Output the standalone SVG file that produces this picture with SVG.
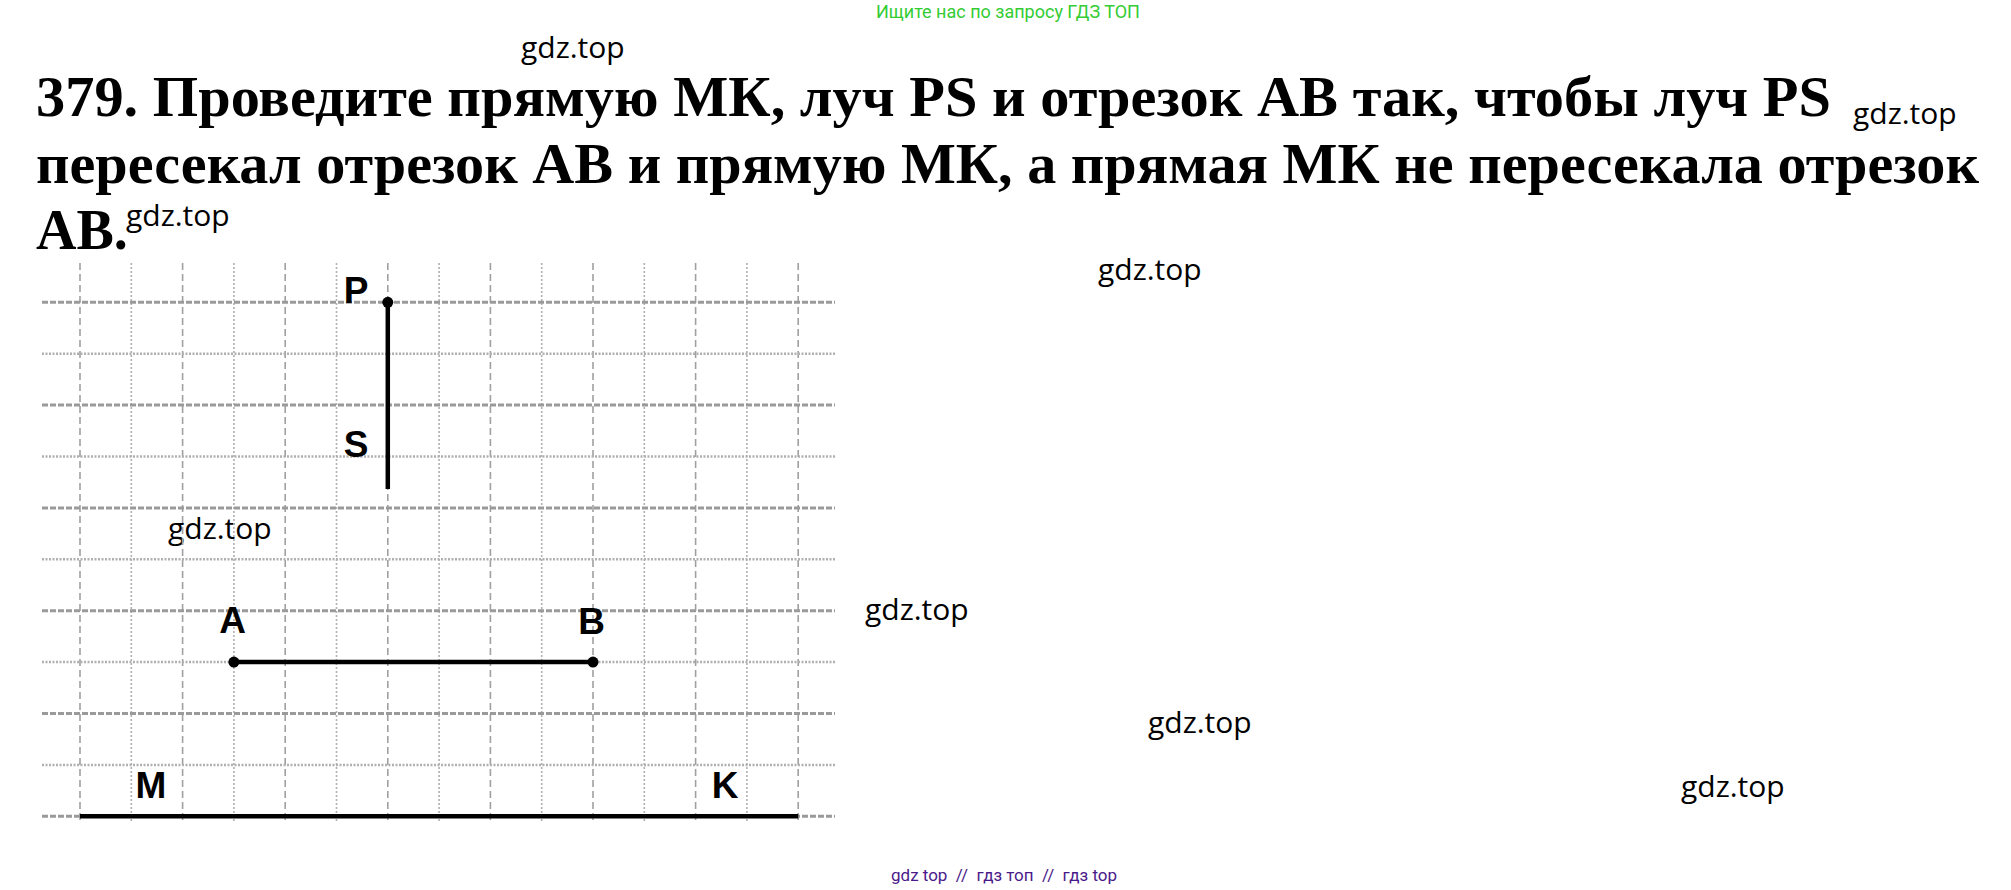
<svg xmlns="http://www.w3.org/2000/svg" width="2011" height="890" viewBox="0 0 2011 890">
<style>
.title{font-family:"Liberation Serif","Times New Roman",serif;font-weight:bold;font-size:56px;fill:#000}
.wm{font-family:"Open Sans","Noto Sans",sans-serif;font-size:30px;fill:#000}
.lbl{font-family:"Liberation Sans",Arial,sans-serif;font-weight:bold;font-size:37px;fill:#000;text-anchor:middle}
.hA{stroke:#9a9a9a;stroke-width:3;stroke-dasharray:6 2;fill:none}
.hB{stroke:#b0b0b0;stroke-width:2.5;stroke-dasharray:2 1.5;fill:none}
.vA{stroke:#a0a0a0;stroke-width:1.6;stroke-dasharray:7 4;fill:none}
.vB{stroke:#b0b0b0;stroke-width:1.6;stroke-dasharray:2 2;fill:none}
.fig{stroke:#000;stroke-width:4.5;fill:none}
.dot{fill:#000}
</style>
<rect width="2011" height="890" fill="#fff"/>
<g id="header">
<text x="876" y="18" font-family="Roboto,'Liberation Sans',sans-serif" font-size="18" fill="#33cc33">Ищите нас по запросу ГДЗ ТОП</text>
</g>
<g id="title">
<text class="title" x="36" y="116" textLength="1795" lengthAdjust="spacingAndGlyphs">379. Проведите прямую МК, луч PS и отрезок АВ так, чтобы луч PS</text>
<text class="title" x="36" y="183" textLength="1943" lengthAdjust="spacingAndGlyphs">пересекал отрезок АВ и прямую МК, а прямая МК не пересекала отрезок</text>
<text class="title" x="36" y="249">АВ.</text>
</g>
<g id="watermarks">
<text class="wm" x="521" y="58">gdz.top</text>
<text class="wm" x="1853" y="124">gdz.top</text>
<text class="wm" x="126" y="226">gdz.top</text>
<text class="wm" x="1098" y="280">gdz.top</text>
<text class="wm" x="168" y="539">gdz.top</text>
<text class="wm" x="865" y="620">gdz.top</text>
<text class="wm" x="1148" y="733">gdz.top</text>
<text class="wm" x="1681" y="797">gdz.top</text>
</g>
<g id="grid">
<g id="grid-vertical">
<line class="vA" x1="80" y1="263" x2="80" y2="822"/>
<line class="vB" x1="131.3" y1="263" x2="131.3" y2="822"/>
<line class="vA" x1="182.6" y1="263" x2="182.6" y2="822"/>
<line class="vB" x1="233.9" y1="263" x2="233.9" y2="822"/>
<line class="vA" x1="285.2" y1="263" x2="285.2" y2="822"/>
<line class="vB" x1="336.5" y1="263" x2="336.5" y2="822"/>
<line class="vA" x1="387.8" y1="263" x2="387.8" y2="822"/>
<line class="vB" x1="439.1" y1="263" x2="439.1" y2="822"/>
<line class="vA" x1="490.4" y1="263" x2="490.4" y2="822"/>
<line class="vB" x1="541.7" y1="263" x2="541.7" y2="822"/>
<line class="vA" x1="593" y1="263" x2="593" y2="822"/>
<line class="vB" x1="644.3" y1="263" x2="644.3" y2="822"/>
<line class="vA" x1="695.6" y1="263" x2="695.6" y2="822"/>
<line class="vB" x1="746.9" y1="263" x2="746.9" y2="822"/>
<line class="vA" x1="798.2" y1="263" x2="798.2" y2="822"/>
</g>
<g id="grid-horizontal">
<line class="hA" x1="42" y1="302.3" x2="835" y2="302.3"/>
<line class="hB" x1="42" y1="353.7" x2="835" y2="353.7"/>
<line class="hA" x1="42" y1="405.1" x2="835" y2="405.1"/>
<line class="hB" x1="42" y1="456.5" x2="835" y2="456.5"/>
<line class="hA" x1="42" y1="507.9" x2="835" y2="507.9"/>
<line class="hB" x1="42" y1="559.3" x2="835" y2="559.3"/>
<line class="hA" x1="42" y1="610.7" x2="835" y2="610.7"/>
<line class="hB" x1="42" y1="662.1" x2="835" y2="662.1"/>
<line class="hA" x1="42" y1="713.5" x2="835" y2="713.5"/>
<line class="hB" x1="42" y1="764.9" x2="835" y2="764.9"/>
<line class="hA" x1="42" y1="816.3" x2="835" y2="816.3"/>
</g>
</g>
<g id="connectors">
<line id="ray-PS" class="fig" x1="387.8" y1="302.3" x2="387.8" y2="489"/>
<line id="segment-AB" class="fig" x1="233.9" y1="662.1" x2="593" y2="662.1"/>
<line id="line-MK" class="fig" stroke-width="5.5" x1="80" y1="816.3" x2="798.2" y2="816.3"/>
</g>
<g id="point-P"><circle class="dot" cx="387.8" cy="302.3" r="5.5"/><text class="lbl" x="356" y="303">P</text></g>
<g id="point-S"><text class="lbl" x="356" y="457">S</text></g>
<g id="point-A"><circle class="dot" cx="233.9" cy="662.1" r="5.5"/><text class="lbl" x="232.5" y="633">A</text></g>
<g id="point-B"><circle class="dot" cx="593" cy="662.1" r="5.5"/><text class="lbl" x="591.5" y="634">B</text></g>
<g id="point-M"><text class="lbl" x="151" y="798">M</text></g>
<g id="point-K"><text class="lbl" x="725" y="798">K</text></g>
<g id="footer">
<text x="891" y="881" font-family="Roboto,'Liberation Sans',sans-serif" font-size="17" fill="#4b1a8a" xml:space="preserve">gdz top  //  гдз топ  //  гдз top</text>
</g>
</svg>
